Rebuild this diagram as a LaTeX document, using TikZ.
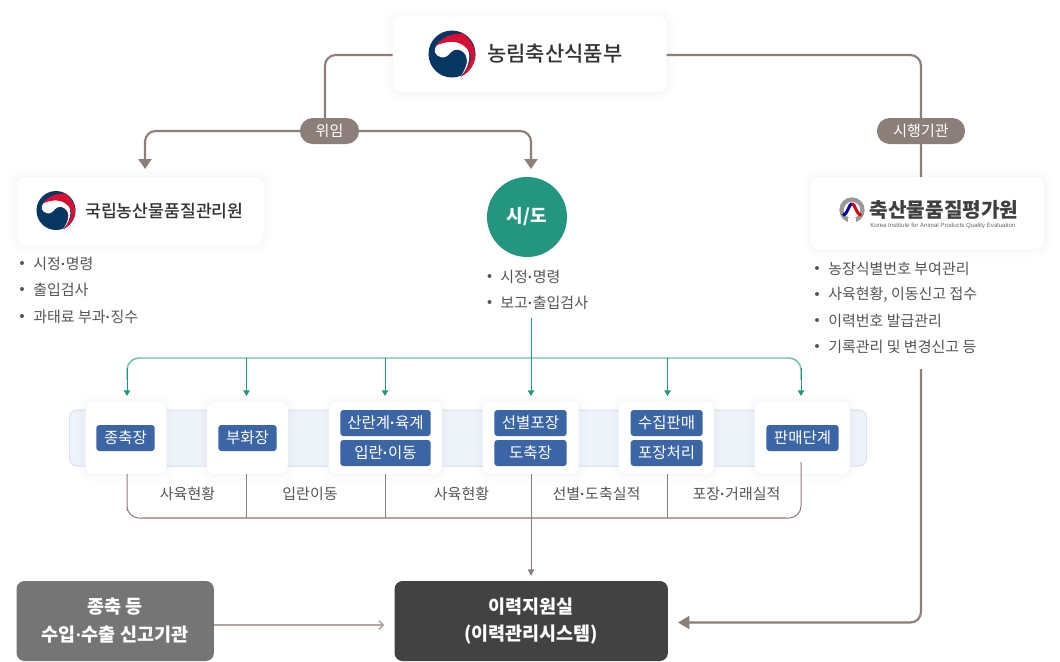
\documentclass[tikz,border=0pt]{standalone}
\usepackage{fontspec}
\setmainfont{Noto Sans CJK KR}
\newfontfamily\kr{Noto Sans CJK KR}
\newfontfamily\krm{Noto Sans CJK KR Medium}
\newfontfamily\lat{Liberation Sans}
\usetikzlibrary{arrows.meta}
\definecolor{brownl}{HTML}{8C7E78}
\definecolor{brownt}{HTML}{B0A5A0}
\definecolor{greenl}{HTML}{22997F}
\definecolor{greent}{HTML}{6FBFAA}
\definecolor{circ}{HTML}{24967F}
\definecolor{tagblue}{HTML}{3B65A5}
\definecolor{bandf}{HTML}{EFF4FB}
\definecolor{bandd}{HTML}{DDE0E6}
\definecolor{txt}{HTML}{555555}
\definecolor{tgblue}{HTML}{063763}
\definecolor{tgred}{HTML}{D80F35}
\definecolor{titlec}{HTML}{333333}
\newcommand{\pxs}[1]{\fontsize{\the\dimexpr #1pt*3/4\relax}{\the\dimexpr #1pt*3/4\relax}\selectfont}
\newcommand{\dt}{{\lat\bfseries ·}}
\tikzset{
 x=0.75pt,y=-0.75pt,
 softshadow/.style={
  preaction={draw=#1,line width=14.25pt,opacity=.003,fill=none},
  preaction={draw=#1,line width=11.25pt,opacity=.004,fill=none},
  preaction={draw=#1,line width=8.25pt,opacity=.005,fill=none},
  preaction={draw=#1,line width=5.25pt,opacity=.006,fill=none},
  preaction={draw=#1,line width=2.25pt,opacity=.007,fill=none}},
 card/.style={softshadow=black,fill=white,rounded corners=6pt,inner sep=0,minimum width=#1,outer sep=0},
 scard/.style={softshadow=blue!70!black,fill=white,rounded corners=6pt,inner sep=0,outer sep=0},
 tagbox/.style={fill=tagblue,rounded corners=2.25pt,text=white,inner sep=0,font=\kr\pxs{15.5}},
 pill/.style={fill=brownl,rounded corners=9.5pt,text=white,inner sep=0,font=\kr\pxs{15},minimum height=19.5pt,outer sep=0},
 itemtxt/.style={anchor=west,inner sep=0,text=txt,font=\kr\pxs{15}},
 bul/.style={circle,fill=txt,inner sep=0,minimum size=3pt},
 steplabel/.style={inner sep=0,text=txt,font=\kr\pxs{15}},
 brownmain/.style={draw=brownl,line width=1.6pt,rounded corners=8pt},
 browntip/.style={-{Triangle[width=9.75pt,length=7.5pt]}},
 greenv/.style={draw=greenl,line width=.75pt,-{Triangle[width=4.8pt,length=4.2pt]}},
 greenh/.style={draw=greent,line width=1.1pt,rounded corners=9pt},
 brownv/.style={draw=brownl,line width=.75pt},
 darkbox/.style={rounded corners=6pt,inner sep=0,outer sep=0},
 boxtext/.style={inner sep=0,text=white,font=\kr\bfseries\pxs{18.5}},
}
\begin{document}
\begin{tikzpicture}
\useasboundingbox (0,0) rectangle (1060,661);
\fill[white] (0,0) rectangle (1060,661);
% band
\node[draw=bandd,fill=bandf,rounded corners=6pt,line width=.75pt,minimum width=597.75pt,minimum height=42pt,inner sep=0] (band) at (468,438) {};
% top connectors
\node[card=205.5pt,minimum height=57pt] (moaf) at (529.5,54) {};
\node[card=185.25pt,minimum height=51pt] (naqs) at (140,211) {};
\node[card=174.75pt,minimum height=54pt] (kape) at (927.5,213) {};
\node[circle,fill=circ,minimum size=60pt,inner sep=0,outer sep=0,text=white,font=\kr\bfseries\pxs{18}] (sido) at (527,217) {시/도};
\coordinate (a1) at (392.5,55);
\coordinate (a2) at (666.5,55);
\coordinate (ta) at (145,169);
\coordinate (tb) at (531,169);
\coordinate (k0) at (921,369);
\coordinate (g0) at (531,318);
\coordinate (wj) at (325,131);
\coordinate (sj) at (921,131);
\draw[brownmain] (a1) -| (wj);
\draw[brownmain,browntip] (wj) -| (ta);
\draw[brownmain,browntip] (wj) -| (tb);
\draw[brownmain] (a2) -| (sj) -- (921,177);
\node[pill,minimum width=44.25pt] (wiim) at (329.5,131) {위임};
\node[pill,minimum width=66pt] (sihaeng) at (921,131) {시행기관};
% logos
\foreach \cx/\cy/\r in {452/54/23.5,56/210.5/19.5}{
 \begin{scope}[shift={(\cx,\cy)},x=\r*0.75pt,y=-\r*0.75pt]
  \fill[tgblue] (0,0) circle (1);
  % white swirl
  \fill[white] (-.66,-.36) .. controls (-.4,-.62) and (.1,-.7) .. (.42,-.5)
     .. controls (.85,-.2) and (.85,.4) .. (.36,.98)
     .. controls (.58,.62) and (.72,.3) .. (.58,.04)
     .. controls (.42,-.22) and (.12,-.26) .. (-.04,-.08)
     .. controls (-.16,.06) and (-.28,.18) .. (-.46,.14)
     .. controls (-.72,.08) and (-.82,-.16) .. (-.66,-.36) -- cycle;
  % red crescent
  \fill[tgred] (-.66,-.36) .. controls (-.45,-.72) and (.05,-.92) .. (.5,-.86)
     .. controls (.86,-.52) and (1.04,-.18) .. (.98,.18)
     .. controls (.9,.56) and (.7,.8) .. (.36,.98)
     .. controls (.64,.66) and (.84,.32) .. (.78,.02)
     .. controls (.68,-.32) and (.3,-.54) .. (-.06,-.52)
     .. controls (-.3,-.5) and (-.52,-.44) .. (-.66,-.36) -- cycle;
 \end{scope}}
\node[inner sep=0,anchor=west,text=titlec,font=\krm\pxs{21}] (t1) at (487,54) {농림축산식품부};
\node[inner sep=0,anchor=west,text=titlec,font=\krm\pxs{17.2}] (t2) at (85,211) {국립농산물품질관리원};
% KAPE logo
\begin{scope}[shift={(852,210)}]
 \draw[draw=black!40,line width=3.2pt] (0,0) circle (10.5);
 \fill[white] (-4,8) rectangle (4,13);
 \draw[draw=blue!65!black,line width=2.2pt] (-9,5.5) .. controls (-4,4) and (-3,-6.5) .. (0,-6.5);
 \draw[draw=red!85!black,line width=2.2pt] (0,-6.5) .. controls (3,-6.5) and (4,4) .. (9,5.5);
\end{scope}
\node[inner sep=0,anchor=west,text=black!75,font=\kr\bfseries\pxs{20.2}] (t3) at (869.5,210) {축산물품질평가원};
\node[inner sep=0,anchor=west,text=black!60,font=\lat\pxs{6.1}] (t3b) at (870,225.5) {Korea Institute for Animal Products Quality Evaluation};
% lists
\foreach \y/\t in {264/시정\dt 명령,290/출입검사,317/과태료 부과\dt 징수}{
 \node[bul] at (22,\y-1) {}; \node[itemtxt] at (33,\y) {\t};}
\foreach \y/\t in {276.5/시정\dt 명령,302.5/보고\dt 출입검사}{
 \node[bul] at (489.5,\y-.5) {}; \node[itemtxt] at (500,\y) {\t};}
\foreach \y/\t in {268.5/농장식별번호 부여관리,294.5/{사육현황, 이동신고 접수},320.5/이력번호 발급관리,346.5/기록관리 및 변경신고 등}{
 \node[bul] at (817,\y-.5) {}; \node[itemtxt] at (828,\y) {\t};}
% stage cards
\node[scard,minimum width=60.75pt,minimum height=54pt] (c1) at (126,438) {};
\node[scard,minimum width=60.75pt,minimum height=54pt] (c2) at (247.3,438) {};
\node[scard,minimum width=85pt,minimum height=54pt] (c3) at (385.3,438) {};
\node[scard,minimum width=72pt,minimum height=54pt] (c4) at (530.7,438) {};
\node[scard,minimum width=71.5pt,minimum height=54pt] (c5) at (666.3,438) {};
\node[scard,minimum width=71.5pt,minimum height=54pt] (c6) at (802.3,438) {};
\foreach \n/\x/\y/\w/\t in {p1/125.5/438/43.75/종축장,p2/247.5/438/43.75/부화장,p3/385.5/423/67.75/산란계\dt 육계,p4/385.5/453/67.75/입란\dt 이동,p5/530.5/423/54.25/선별포장,p6/530.5/453/54.25/도축장,p7/666.7/423/54/수집판매,p8/666.7/453/54/포장처리,p9/802.5/438/54.25/판매단계}{
 \node[tagbox,minimum width=\w pt,minimum height=19.5pt,align=center] (\n) at (\x,\y) {\t};}
% green
\coordinate (gj) at (531,358);
\coordinate (g1) at (127,396); \coordinate (g2) at (246.5,396); \coordinate (g3) at (385,396);
\coordinate (g4) at (531,396); \coordinate (g5) at (667.5,396); \coordinate (g6) at (801,396);
\draw[greenh] (127,380) |- (gj) -| (801,380);
\draw[draw=greenl,line width=.75pt] (g0) -- (gj);
\draw[greenv] (127,368) -- (g1);
\draw[greenv] (246.5,358) -- (g2);
\draw[greenv] (385,358) -- (g3);
\draw[greenv] (gj) -- (g4);
\draw[greenv] (667.5,358) -- (g5);
\draw[greenv] (801,368) -- (g6);
% lower frame
\coordinate (fl) at (127,518); \coordinate (fr) at (801,518);
\draw[brownv,rounded corners=9pt] (127,474) |- (fl) -- (fr) |- (801,474);
\draw[draw=brownt,line width=1.2pt] (142,518) -- (786,518);
\draw[brownv] (246.5,474) -- (246.5,518);
\draw[brownv] (385,474) -- (385,518);
\draw[brownv] (667.5,474) -- (667.5,518);
\coordinate (sysin) at (531,576);
\draw[brownv,-{Triangle[width=4.8pt,length=5pt]}] (531,474) -- (sysin);
\foreach \x/\t in {187.5/사육현황,310/입란이동,461.5/사육현황,596.5/선별\dt 도축실적,736.5/포장\dt 거래실적}{
 \node[steplabel] at (\x,493.5) {\t};}
% bottom
\node[darkbox,fill=black!54,minimum width=148pt,minimum height=60pt] (imp) at (115.2,621) {};
\node[darkbox,fill=black!74,minimum width=205pt,minimum height=60pt] (sys) at (531.2,621) {};
\node[boxtext] (i1) at (115,606.5) {종축 등};
\node[boxtext] (i2) at (115,635) {수입\dt 수출 신고기관};
\node[boxtext] (s1) at (531,606.5) {이력지원실};
\node[boxtext] (s2) at (531,635) {(이력관리시스템)};
\coordinate (ia) at (384.5,625);
\draw[draw=brownt,line width=1.1pt,-{Straight Barb[length=3.5pt,width=6.5pt]}] (imp.east|-ia) -- (ia);
\coordinate (sa) at (678,622.5);
\draw[brownmain,-{Triangle[width=9.75pt,length=8.5pt]}] (k0) |- (sa);
\end{tikzpicture}
\end{document}
